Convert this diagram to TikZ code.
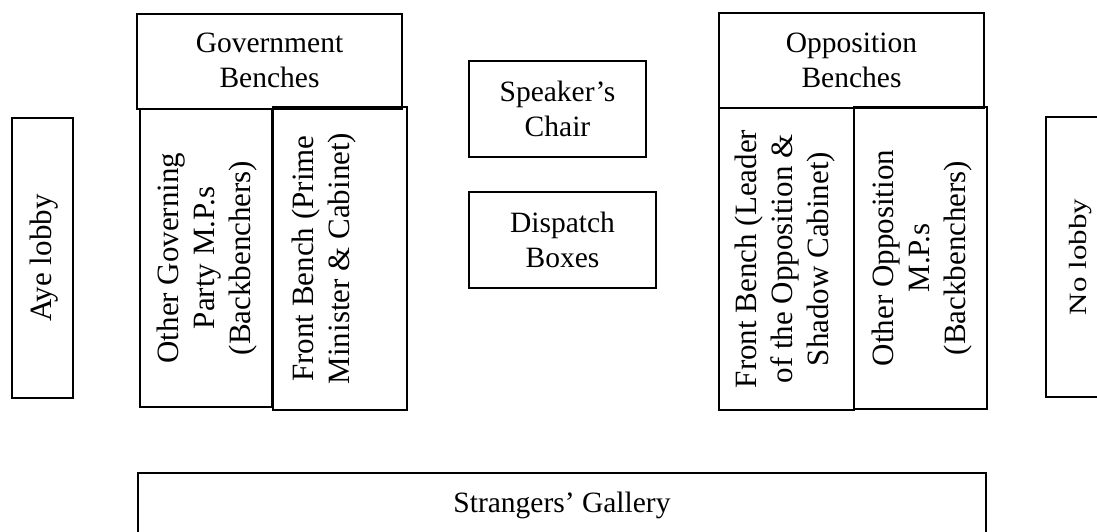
\documentclass[tikz,border=0pt]{standalone}
\usepackage{fontspec}
\setmainfont{Liberation Serif}
\usepackage{graphicx}
\usepackage{tikz}
\tikzstyle{room} = [rectangle, draw, line width=0.6pt, inner sep=0pt]
\tikzstyle{bench} = [room, rotate=90, font=\fontsize{15.5}{18}\selectfont]
\newcommand{\inbox}[4][9pt]{\parbox[c][#2][t]{#3}{\centering\vspace*{#1}#4\par}}

\begin{document}
\begin{tikzpicture}[x=0.5pt, y=-0.5pt, font=\fontsize{14.75}{17.5}\selectfont]
    \useasboundingbox (0,0) rectangle (1097,531);
    \clip (0,0) rectangle (1097,531);

    \node [bench] (aye) at (42.5,258) {\inbox{30.5pt}{140pt}{Aye lobby}};
    \node [room] (govhead) at (269.5,61.5) {\inbox[9.5pt]{47.5pt}{132.5pt}{Government\\Benches}};
    \node [bench] (govback) at (206,258) {\inbox[8.5pt]{66pt}{149pt}{Other Governing\\Party M.P.s\\(Backbenchers)}};
    \node [bench] (govfront) at (340,258.5) {\inbox[9.5pt]{67pt}{151.5pt}{Front Bench (Prime\\Minister \& Cabinet)}};
    \node [room] (speaker) at (557.5,109) {\inbox[10pt]{48pt}{88.5pt}{Speaker’s\\Chair}};
    \node [room] (dispatch) at (562.5,240) {\inbox[10pt]{48pt}{93.5pt}{Dispatch\\Boxes}};
    \node [room] (opphead) at (851.5,60.5) {\inbox[10pt]{47.5pt}{132.5pt}{Opposition\\Benches}};
    \node [bench] (oppfront) at (786.5,259) {\inbox[8pt]{67.5pt}{151pt}{Front Bench (Leader\\of the Opposition \&\\Shadow Cabinet)}};
    \node [bench] (oppback) at (920.5,258) {\inbox{66.5pt}{151pt}{Other Opposition\\M.P.s\\(Backbenchers)}};
    \node [bench] (nolobby) at (1076.5,257) {\inbox[11.5pt]{30.5pt}{140pt}{\scalebox{1}[0.8]{No lobby}}};
    \node [room] (gallery) at (562,503) {\inbox[9.5pt]{30pt}{424pt}{Strangers’ Gallery}};
\end{tikzpicture}
\end{document}
